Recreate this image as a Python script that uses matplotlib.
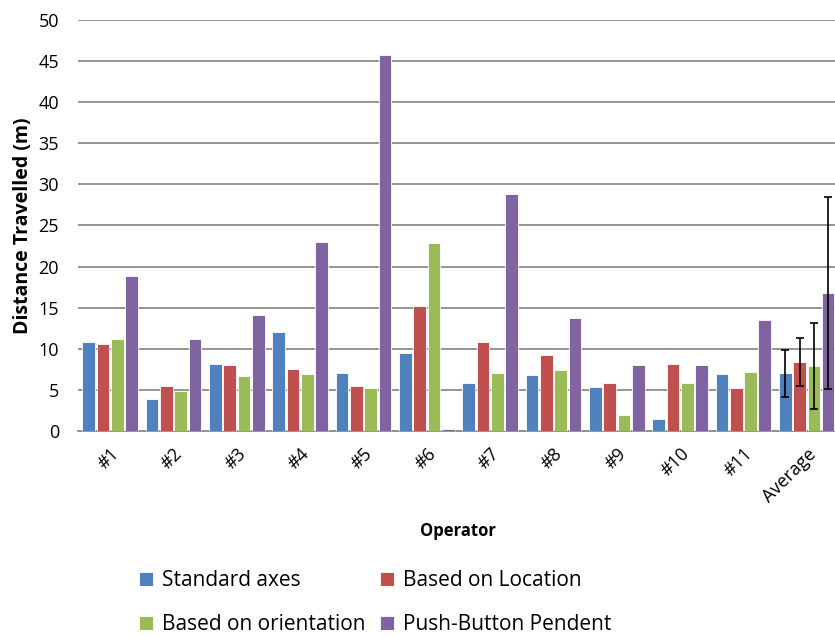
import matplotlib
matplotlib.use("Agg")
import matplotlib.pyplot as plt
import numpy as np

categories = ["#1", "#2", "#3", "#4", "#5", "#6", "#7", "#8", "#9", "#10", "#11", "Average"]
series_names = ["Standard axes", "Based on Location", "Based on orientation", "Push-Button Pendent"]
standard = [10.8, 3.9, 8.1, 12.0, 7.0, 9.5, 5.8, 6.8, 5.3, 1.4, 6.9, 7.0]
location = [10.6, 5.5, 8.0, 7.6, 5.5, 15.2, 10.8, 9.3, 5.8, 8.1, 5.2, 8.4]
orientation = [11.2, 4.9, 6.7, 6.9, 5.2, 22.9, 7.0, 7.4, 1.9, 5.8, 7.2, 7.9]
pendent = [18.8, 11.2, 14.1, 23.0, 45.7, 0.2, 28.8, 13.8, 8.0, 8.0, 13.5, 16.8]
avg_err = [2.9, 2.9, 5.2, 11.7]
colors = ["#4F81BD", "#C0504D", "#9BBB59", "#8064A2"]

plt.rcParams['font.family'] = ['Open Sans', 'DejaVu Sans']

fig = plt.figure(figsize=(8.35, 6.37), dpi=100)
ax = fig.add_axes([0.094, 0.3234, 0.91, 0.6452])

x = np.arange(len(categories))
pitch = 0.226
width = 0.2
all_series = [standard, location, orientation, pendent]
handles = []
for i, (vals, c, name) in enumerate(zip(all_series, colors, series_names)):
    off = (i - 1.5) * pitch
    h = ax.bar(x + off, vals, width, color=c, edgecolor='white', linewidth=0.6, label=name, zorder=3)
    handles.append(h)
    ax.errorbar(x[-1] + off, vals[-1], yerr=avg_err[i], fmt='none', ecolor='black',
                elinewidth=1.2, capsize=3, capthick=1.2, zorder=4)

ax.set_xlim(-0.5, len(categories) - 0.5)
ax.set_ylim(0, 50)
ax.set_yticks(range(0, 51, 5))
ax.yaxis.grid(True, color='#8c8c8c', linewidth=1.3, zorder=0)
ax.set_axisbelow(True)
for s in ['top', 'right', 'left']:
    ax.spines[s].set_visible(False)
ax.spines['bottom'].set_color('#8c8c8c')
ax.spines['bottom'].set_linewidth(1.3)
ax.tick_params(axis='y', length=0, labelsize=13, pad=14)
ax.tick_params(axis='x', length=0, labelsize=13, pad=10)
ax.set_xticks(x)
ax.set_xticklabels(categories, rotation=45, ha='right', rotation_mode='anchor')
ax.set_ylabel("Distance Travelled (m)", fontsize=14, fontweight='bold', labelpad=4)
ax.set_xlabel("Operator", fontsize=12, fontweight='bold', labelpad=12)

order = [0, 2, 1, 3]
fig.legend(handles=[handles[k] for k in order], labels=[series_names[k] for k in order],
           loc='center left', bbox_to_anchor=(0.1436, 0.0535),
           ncol=2, frameon=False, fontsize=15, handlelength=0.7, handleheight=0.7,
           handletextpad=0.4, columnspacing=0.7, labelspacing=1.1, borderpad=0.4)

fig.savefig("out.png", dpi=100)
